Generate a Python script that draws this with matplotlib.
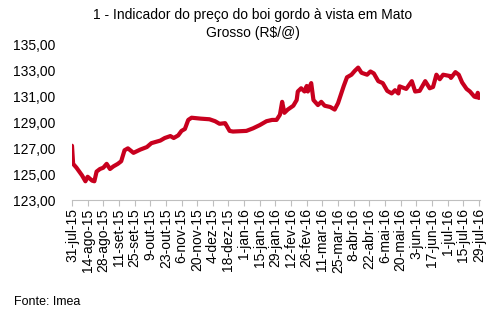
import pandas as pd
import matplotlib.pyplot as plt

plt.rcParams['font.family'] = ['Liberation Sans', 'DejaVu Sans']

dates = [
    "2015-07-31", "2015-08-01", "2015-08-04", "2015-08-09", "2015-08-12", "2015-08-14",
    "2015-08-18", "2015-08-20", "2015-08-22", "2015-08-25", "2015-08-28", "2015-08-31",
    "2015-09-03", "2015-09-06", "2015-09-10", "2015-09-13", "2015-09-16", "2015-09-19",
    "2015-09-24", "2015-09-30", "2015-10-06", "2015-10-10", "2015-10-18", "2015-10-22",
    "2015-10-27", "2015-10-30", "2015-11-03", "2015-11-06", "2015-11-09", "2015-11-12",
    "2015-11-15", "2015-11-23", "2015-12-01", "2015-12-06", "2015-12-10", "2015-12-15",
    "2015-12-16", "2015-12-19", "2015-12-22", "2016-01-03", "2016-01-09", "2016-01-15",
    "2016-01-21", "2016-01-26", "2016-01-30", "2016-02-02", "2016-02-04", "2016-02-06",
    "2016-02-09", "2016-02-14", "2016-02-17", "2016-02-18", "2016-02-21", "2016-02-24",
    "2016-02-26", "2016-02-27", "2016-03-01", "2016-03-03", "2016-03-07", "2016-03-10",
    "2016-03-13", "2016-03-18", "2016-03-22", "2016-03-25", "2016-03-30", "2016-04-02",
    "2016-04-06", "2016-04-09", "2016-04-12", "2016-04-15", "2016-04-20", "2016-04-23",
    "2016-04-26", "2016-04-30", "2016-05-04", "2016-05-08", "2016-05-12", "2016-05-15",
    "2016-05-18", "2016-05-19", "2016-05-25", "2016-05-30", "2016-06-02", "2016-06-06",
    "2016-06-11", "2016-06-15", "2016-06-18", "2016-06-21", "2016-06-24", "2016-06-27",
    "2016-07-03", "2016-07-04", "2016-07-08", "2016-07-11", "2016-07-14", "2016-07-18",
    "2016-07-21", "2016-07-25", "2016-07-27", "2016-07-28", "2016-07-29",
]
prices = [
    127.2, 125.8, 125.5, 124.9, 124.45, 124.8,
    124.5, 124.45, 125.2, 125.4, 125.5, 125.8,
    125.4, 125.6, 125.8, 126.0, 126.85, 127.0,
    126.65, 126.9, 127.1, 127.4, 127.6, 127.8,
    127.95, 127.8, 128.0, 128.35, 128.5, 129.2,
    129.37, 129.3, 129.25, 129.1, 128.9, 128.95,
    128.8, 128.35, 128.3, 128.35, 128.55, 128.8,
    129.1, 129.2, 129.2, 129.6, 130.6, 129.75,
    130.0, 130.3, 130.74, 131.4, 131.65, 131.4,
    131.83, 131.4, 132.05, 130.74, 130.35, 130.6,
    130.3, 130.2, 130.0, 130.5, 131.8, 132.5,
    132.7, 133.0, 133.25, 132.85, 132.7, 132.95,
    132.8, 132.2, 132.05, 131.45, 131.25, 131.5,
    131.25, 131.8, 131.6, 132.2, 131.4, 131.45,
    132.2, 131.65, 131.75, 132.7, 132.35, 132.7,
    132.6, 132.45, 132.9, 132.7, 132.1, 131.6,
    131.4, 131.0, 130.95, 131.3, 130.9,
]
tick_dates = pd.date_range("2015-07-31", "2016-07-29", freq="14D")
tick_labels = [
    "31-jul-15", "14-ago-15", "28-ago-15", "11-set-15", "25-set-15", "9-out-15",
    "23-out-15", "6-nov-15", "20-nov-15", "4-dez-15", "18-dez-15", "1-jan-16",
    "15-jan-16", "29-jan-16", "12-fev-16", "26-fev-16", "11-mar-16", "25-mar-16",
    "8-abr-16", "22-abr-16", "6-mai-16", "20-mai-16", "3-jun-16", "17-jun-16",
    "1-jul-16", "15-jul-16", "29-jul-16",
]
y_ticks = [123, 125, 127, 129, 131, 133, 135]

x = pd.to_datetime(dates)

fig = plt.figure(figsize=(5.04, 3.25), dpi=100)
ax = fig.add_axes([72 / 504, 1 - 200 / 325, 408 / 504, 155 / 325])

ax.plot(x, prices, color="#C8001E", linewidth=3.0, solid_joinstyle="round", solid_capstyle="round")

ax.set_xlim(tick_dates[0], tick_dates[-1] + pd.Timedelta(days=1))
ax.set_ylim(123, 135)
ax.set_xticks(tick_dates)
ax.set_xticklabels(tick_labels, rotation=90, fontsize=10)
ax.set_yticks(y_ticks)
ax.set_yticklabels(["{:.2f}".format(v).replace(".", ",") for v in y_ticks], fontsize=10)

for side in ["top", "right", "left"]:
    ax.spines[side].set_visible(False)
ax.spines["bottom"].set_color("#BFBFBF")
ax.tick_params(axis="x", direction="out", length=4, color="#BFBFBF", pad=2)
ax.tick_params(axis="y", length=0, pad=12)

fig.text(253 / 504, 1 - 24 / 325, "1 - Indicador do preço do boi gordo à vista em Mato\nGrosso (R$/@)",
         ha="center", va="center", fontsize=10, linespacing=1.35)
fig.text(14 / 504, 1 - 302 / 325, "Fonte: Imea", ha="left", va="center", fontsize=9)

fig.savefig("out.png", dpi=100)
plt.close(fig)
